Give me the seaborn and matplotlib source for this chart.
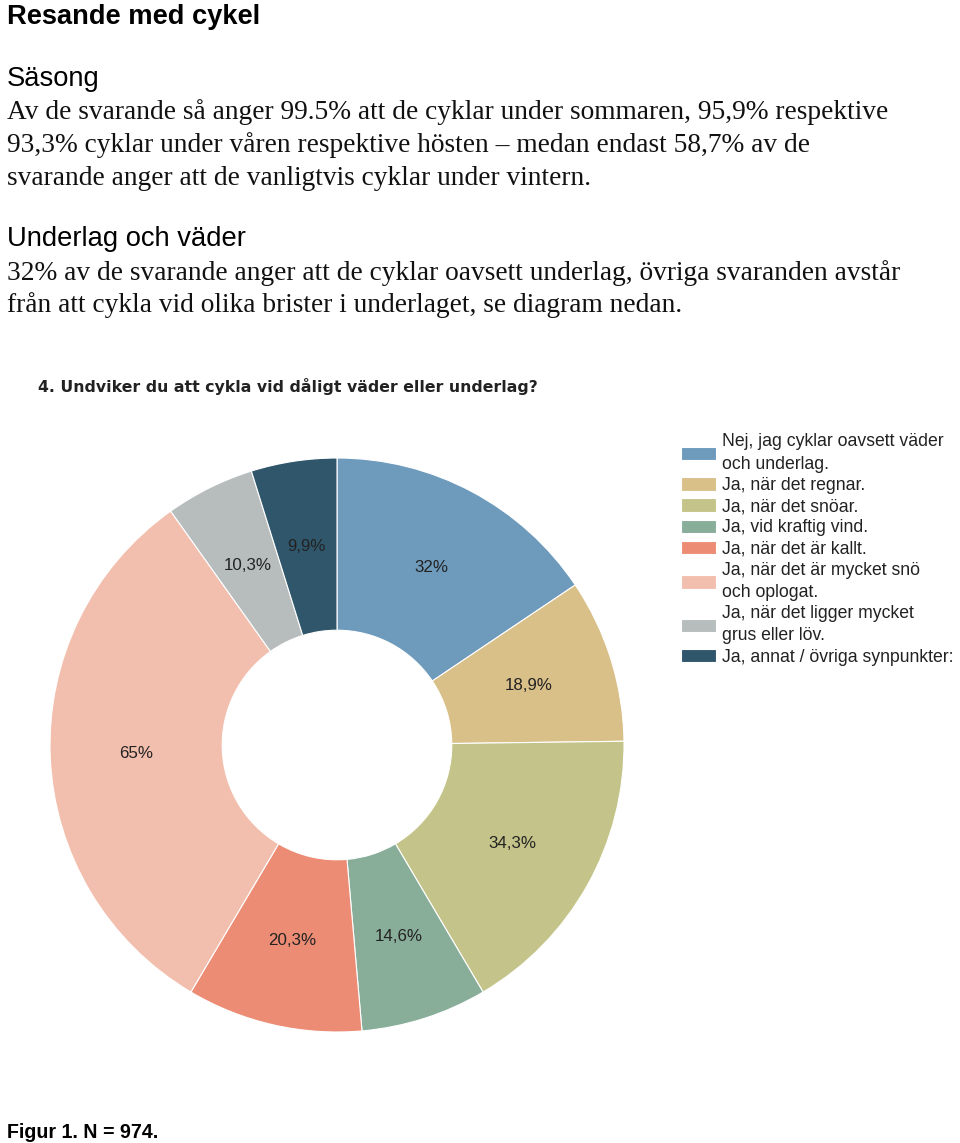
import matplotlib
matplotlib.use("Agg")
import matplotlib.pyplot as plt
import seaborn as sns

# ---------------- data ----------------
categories = [
    "Nej, jag cyklar oavsett väder\noch underlag.",
    "Ja, när det regnar.",
    "Ja, när det snöar.",
    "Ja, vid kraftig vind.",
    "Ja, när det är kallt.",
    "Ja, när det är mycket snö\noch oplogat.",
    "Ja, när det ligger mycket\ngrus eller löv.",
    "Ja, annat / övriga synpunkter:",
]
values = [32, 18.9, 34.3, 14.6, 20.3, 65, 10.3, 9.9]
value_labels = ["32%", "18,9%", "34,3%", "14,6%", "20,3%", "65%", "10,3%", "9,9%"]
colors = ["#6e9abc", "#d9bf88", "#c4c48a", "#88ae9a", "#ec8c74",
          "#f2bfae", "#b7bdbd", "#30566b"]

page_title = "Resande med cykel"
sec1_title = "Säsong"
sec1_lines = [
    "Av de svarande så anger 99.5% att de cyklar under sommaren, 95,9% respektive",
    "93,3% cyklar under våren respektive hösten – medan endast 58,7% av de",
    "svarande anger att de vanligtvis cyklar under vintern.",
]
sec2_title = "Underlag och väder"
sec2_lines = [
    "32% av de svarande anger att de cyklar oavsett underlag, övriga svaranden avstår",
    "från att cykla vid olika brister i underlaget, se diagram nedan.",
]
chart_title = "4. Undviker du att cykla vid dåligt väder eller underlag?"
caption = "Figur 1. N = 974."

# ---------------- figure ----------------
sns.set_theme(style="white")
plt.rcParams["font.family"] = ["Liberation Sans", "DejaVu Sans"]
W, H = 960, 1143
fig = plt.figure(figsize=(W / 100, H / 100), dpi=100)
fig.patch.set_facecolor("white")
renderer = fig.canvas.get_renderer()


def put(x, yb, s, size, **kw):
    return fig.text(x / W, 1 - yb / H, s, ha="left", va="baseline",
                    fontsize=size, **kw)


def fit_size(s, target_w, **kw):
    t = fig.text(0, 0, s, fontsize=20, **kw)
    w = t.get_window_extent(renderer).width
    t.remove()
    return 20 * target_w / w


serif = ["Liberation Serif", "DejaVu Serif"]
sans = ["Liberation Sans", "DejaVu Sans"]

title_size = fit_size(page_title, 253, family=sans, fontweight="bold")
head_size = fit_size(sec2_title, 238, family=sans)
body_size = fit_size(sec1_lines[0], 879, family=serif)
cap_size = fit_size(caption, 151, family=sans, fontweight="bold")
ct_size = fit_size(chart_title, 500, family=["DejaVu Sans"], fontweight="bold")

put(7, 23.5, page_title, title_size, family=sans, fontweight="bold", color="black")
put(7, 86, sec1_title, head_size, family=sans, color="black")
for yb, line in zip([119, 152, 185], sec1_lines):
    put(7, yb, line, body_size, family=serif, color="#111111")
put(7, 246, sec2_title, head_size, family=sans, color="black")
for yb, line in zip([280, 312], sec2_lines):
    put(7, yb, line, body_size, family=serif, color="#111111")
put(38, 391.5, chart_title, ct_size, family=["DejaVu Sans"], fontweight="bold",
    color="#222222")
put(7, 1138, caption, cap_size, family=sans, fontweight="bold", color="black")

# ---------------- donut ----------------
cx, cy, R = 337, 745, 287
ax = fig.add_axes([(cx - R) / W, 1 - (cy + R) / H, 2 * R / W, 2 * R / H])
palette = sns.color_palette(colors)
wedges, texts = ax.pie(
    values, colors=palette, labels=value_labels, labeldistance=0.70,
    startangle=90, counterclock=False, radius=1.0,
    wedgeprops=dict(width=0.6, edgecolor="white", linewidth=0.8),
    textprops=dict(fontsize=12.2, color="#222222", family=sans),
)
for t in texts:
    t.set_ha("center")
    t.set_va("center")
ax.set_xlim(-1, 1)
ax.set_ylim(-1, 1)
ax.set_aspect("equal")
ax.axis("off")

# ---------------- legend ----------------
leg_fs = 12.7
leg = fig.legend(
    wedges, categories, loc="upper left",
    bbox_to_anchor=(681 / W, 1 - 433.5 / H), bbox_transform=fig.transFigure,
    frameon=False, fontsize=leg_fs, handlelength=2.0, handleheight=0.8,
    handletextpad=0.3, labelspacing=0.24, borderpad=0, borderaxespad=0,
    labelcolor="#222222",
)
for t in leg.get_texts():
    t.set_linespacing(1.4)

fig.savefig("out.png", dpi=100, facecolor="white")
